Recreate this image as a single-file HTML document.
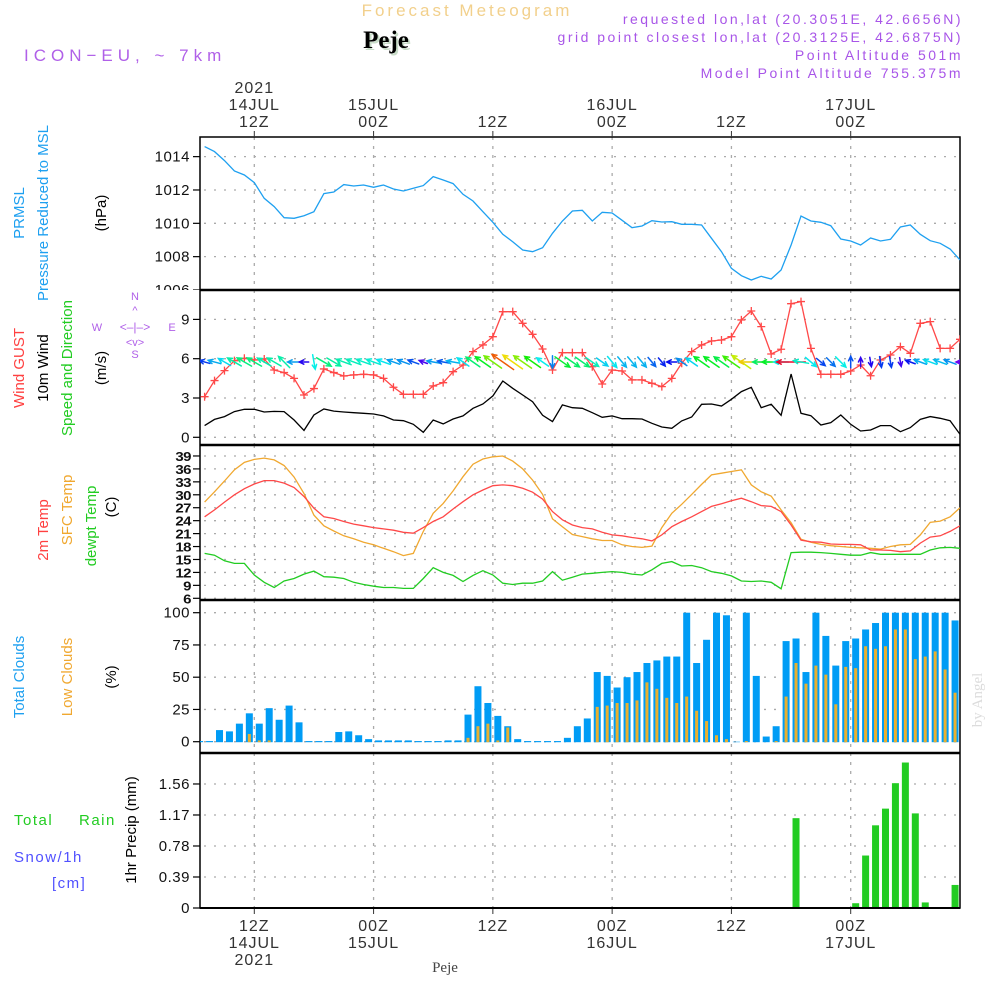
<!DOCTYPE html>
<html><head><meta charset="utf-8"><style>
html,body{margin:0;padding:0;background:#fff;}
svg{display:block;font-family:"Liberation Sans",sans-serif;}
</style></head><body>
<svg id="chart" width="1000" height="1000" viewBox="0 0 1000 1000" xmlns="http://www.w3.org/2000/svg">
<rect x="0" y="0" width="1000" height="1000" fill="#fff"/>
<text x="467" y="16" text-anchor="middle" font-size="17" fill="#f2d08c" letter-spacing="3">Forecast Meteogram</text>
<text x="388" y="50" text-anchor="middle" font-size="25" font-weight="bold" font-family="Liberation Serif,serif" fill="#c8dcc8">Peje</text>
<text x="386" y="48" text-anchor="middle" font-size="25" font-weight="bold" font-family="Liberation Serif,serif" fill="#000">Peje</text>
<text x="24" y="61" font-size="17" fill="#b060e8" letter-spacing="5">ICON−EU, ~ 7km</text>
<g font-size="14" fill="#a855e8" text-anchor="end" letter-spacing="2.5">
<text x="963" y="24">requested lon,lat (20.3051E, 42.6656N)</text>
<text x="963" y="42">grid point closest lon,lat (20.3125E, 42.6875N)</text>
<text x="963" y="60">Point Altitude 501m</text>
<text x="963" y="78">Model Point Altitude 755.375m</text>
</g>
<text transform="translate(982,700) rotate(-90)" text-anchor="middle" font-size="15" font-family="Liberation Serif,serif" fill="#dcdcdc">by Angel</text>
<text x="445" y="972" text-anchor="middle" font-size="15" font-family="Liberation Serif,serif" fill="#444">Peje</text>

<g font-size="15">
<text transform="translate(24,213) rotate(-90)" text-anchor="middle" fill="#1ea0f0">PRMSL</text>
<text transform="translate(48,213) rotate(-90)" text-anchor="middle" fill="#1ea0f0">Pressure Reduced to MSL</text>
<text transform="translate(106,213) rotate(-90)" text-anchor="middle" fill="#000">(hPa)</text>
<text transform="translate(24,368) rotate(-90)" text-anchor="middle" fill="#ff4040">Wind GUST</text>
<text transform="translate(48,368) rotate(-90)" text-anchor="middle" fill="#000">10m Wind</text>
<text transform="translate(72,368) rotate(-90)" text-anchor="middle" fill="#22cc22">Speed and Direction</text>
<text transform="translate(106,368) rotate(-90)" text-anchor="middle" fill="#000">(m/s)</text>
<text transform="translate(48,530) rotate(-90)" text-anchor="middle" fill="#ff4040">2m Temp</text>
<text transform="translate(72,510) rotate(-90)" text-anchor="middle" fill="#f0a830">SFC Temp</text>
<text transform="translate(96,526) rotate(-90)" text-anchor="middle" fill="#22cc22">dewpt Temp</text>
<text transform="translate(116,507) rotate(-90)" text-anchor="middle" fill="#000">(C)</text>
<text transform="translate(24,677) rotate(-90)" text-anchor="middle" fill="#1ea0f0">Total Clouds</text>
<text transform="translate(72,677) rotate(-90)" text-anchor="middle" fill="#f0a830">Low Clouds</text>
<text transform="translate(116,677) rotate(-90)" text-anchor="middle" fill="#000">(%)</text>
<text transform="translate(136,830) rotate(-90)" text-anchor="middle" fill="#000">1hr Precip (mm)</text>
<text x="14" y="825" fill="#22cc22" letter-spacing="1.5">Total</text>
<text x="79" y="825" fill="#22cc22" letter-spacing="1.5">Rain</text>
<text x="14" y="862" fill="#5050ff" letter-spacing="1.5">Snow/1h</text>
<text x="52" y="888" fill="#5050ff" letter-spacing="1.5">[cm]</text>
</g>
<g font-size="11" fill="#b060e8" text-anchor="middle">
<text x="97" y="331">W</text><text x="172" y="331">E</text><text x="135" y="300">N</text><text x="135" y="358">S</text>
<text x="135" y="331" font-size="12">&lt;–|–&gt;</text>
<text x="135" y="314" font-size="11">^</text><text x="135" y="346" font-size="11">&lt;v&gt;</text>
</g>
<g id="plot"></g>
</svg>
<script>
const pressure=[1014.6,1014.3,1013.76,1013.14,1012.9,1012.44,1011.5,1011.0,1010.34,1010.3,1010.46,1010.7,1011.78,1011.88,1012.32,1012.24,1012.3,1012.16,1012.3,1012.06,1011.94,1012.1,1012.26,1012.8,1012.6,1012.38,1011.74,1011.34,1010.7,1010.06,1009.34,1008.9,1008.4,1008.3,1008.54,1009.4,1010.14,1010.74,1010.78,1010.14,1010.66,1010.62,1010.18,1009.74,1009.84,1010.16,1010.08,1010.1,1009.94,1009.94,1009.9,1009.1,1008.3,1007.3,1006.86,1006.6,1006.82,1006.66,1007.2,1008.7,1010.44,1010.14,1010.06,1009.86,1009.06,1008.94,1008.7,1009.12,1008.94,1009.04,1009.78,1009.9,1009.34,1008.96,1008.8,1008.46,1007.8];
const wind10m=[0.89,1.37,1.58,1.96,2.14,2.14,1.93,1.98,1.96,1.32,0.53,1.7,2.16,2.0,1.93,1.88,1.83,1.78,1.63,1.32,1.27,0.99,0.38,1.32,1.02,1.4,1.63,2.21,2.54,3.16,4.3,3.74,3.23,2.72,1.68,1.2,2.47,2.26,2.21,1.88,1.53,1.63,1.42,1.42,1.4,1.07,0.79,0.69,1.25,1.55,2.52,2.54,2.39,2.9,3.49,3.82,2.26,2.52,1.68,4.83,1.83,1.65,0.94,1.12,1.7,0.99,0.48,0.56,0.89,0.89,0.43,0.74,1.37,1.58,1.45,1.27,0.23];
const gust=[3.1,4.33,5.09,5.85,6.03,5.9,5.98,5.14,4.94,4.5,3.23,3.72,5.22,4.94,4.68,4.76,4.81,4.76,4.5,3.82,3.28,3.28,3.28,3.92,4.17,5.01,5.52,6.54,7.05,7.68,9.59,9.59,8.7,7.86,6.74,5.14,6.46,6.46,6.46,5.39,4.07,5.14,5.06,4.38,4.38,4.12,3.87,4.5,5.65,6.54,7.05,7.35,7.43,7.68,8.96,9.64,8.45,6.36,6.72,10.2,10.36,6.79,4.81,4.81,4.81,5.06,5.52,4.7,5.9,6.28,6.92,6.41,8.7,8.83,6.79,6.79,7.48];
const windAngle=[165,165,150,150,150,150,150,150,135,180,180,280,330,330,160,160,160,160,160,160,160,160,160,170,170,170,145,145,145,145,145,145,145,145,145,270,325,325,325,325,325,310,310,310,310,310,310,180,145,145,145,145,145,145,145,180,180,180,180,180,170,320,320,315,315,90,90,280,280,280,280,160,160,160,160,160,180];
const temp2m=[24.9,26.5,28.3,30.0,31.4,32.5,33.3,33.3,32.7,31.7,29.6,26.9,24.9,24.5,23.8,23.2,22.8,22.4,22.1,21.8,21.3,21.1,22.4,23.8,24.9,26.7,28.4,30.0,31.1,32.1,32.3,32.1,31.5,30.6,29.0,26.1,24.2,23.0,22.4,22.1,21.3,20.7,20.5,20.1,19.8,19.3,20.7,22.6,23.8,24.9,26.1,27.3,27.9,28.6,29.2,28.4,27.5,27.3,26.1,23.0,19.5,19.1,19.0,18.6,18.5,18.5,18.4,17.2,17.2,17.1,16.8,17.0,18.8,20.2,20.5,21.5,22.8];
const tempSfc=[28.3,30.7,33.2,35.8,37.5,38.2,38.5,38.1,36.8,34.1,30.3,25.3,22.8,21.6,20.5,19.8,19.0,18.4,17.6,16.8,15.9,16.4,21.5,25.7,28.0,30.9,34.2,37.1,38.3,38.8,39.0,37.8,36.0,33.4,30.1,24.4,22.6,20.8,20.3,19.8,19.4,19.4,18.4,18.0,17.8,18.1,22.4,25.7,27.8,30.1,32.4,34.6,35.0,35.4,35.8,32.3,30.7,29.7,26.5,23.5,19.7,19.0,18.5,18.2,18.0,17.8,17.7,17.6,17.4,18.0,18.4,18.5,20.7,23.6,23.9,24.9,27.0];
const dewpoint=[16.4,16.0,14.7,14.1,14.1,11.4,9.7,8.5,10.0,10.6,11.6,12.3,11.0,10.9,10.6,9.7,9.2,8.8,8.5,8.5,8.3,8.3,10.6,13.1,12.0,11.3,9.9,11.3,12.4,11.4,9.5,9.2,9.5,9.5,10.0,12.2,10.2,10.9,11.6,11.8,12.0,12.2,12.0,11.6,11.4,12.6,14.1,14.5,13.5,13.6,13.1,12.2,11.8,11.2,10.0,9.9,10.0,9.7,8.2,16.6,16.7,16.7,16.6,16.4,16.2,16.0,16.0,16.6,16.2,16.2,16.2,16.2,16.2,17.2,17.7,17.8,17.6];
const totalClouds=[0.5,0.5,9,8,14,22,14,26,17,28,15,0.5,0.5,0.5,7.5,8,5,2,1,1,1,1,0.5,0.5,0.5,1,1,21,43,30,20,12,2,0.5,0.5,0.5,0.5,3,12,18,54,51,42,50,54,61,63,66,66,100,61,79,100,98,0,100,51,4,12,78,80,54,100,82,59,78,80,87,92,100,100,100,100,100,100,100,94];
const lowClouds=[0,0,0,0,0,6,1,1,0,0,0,0,0,0,0,0,0,0,0,0,0,0,0,0,0,0,0,3,12,14,1,11,0,0,0,0,0,0,0,0,27,28,30,30,32,46,41,34,30,35,24,16,5,2,0,0.5,0,0,0.5,35,61,45,59,52,29,58,57,74,72,74,87,87,64,66,70,56,38];
const precip=[0,0,0,0,0,0,0,0,0,0,0,0,0,0,0,0,0,0,0,0,0,0,0,0,0,0,0,0,0,0,0,0,0,0,0,0,0,0,0,0,0,0,0,0,0,0,0,0,0,0,0,0,0,0,0,0,0,0,0,0,1.13,0.01,0,0.005,0,0.01,0.06,0.66,1.04,1.25,1.57,1.83,1.19,0.07,0,0,0.29];
const pressureTicks=[1014,1012,1010,1008,1006];
const windTicks=[9,6,3,0];
const tempTicks=[39,36,33,30,27,24,21,18,15,12,9,6];
const cloudTicks=[100,75,50,25,0];
const precipTicks=[1.56,1.17,0.78,0.39,0];
const timeHours=[12,24,36,48,60,72];
const topLabels=[["2021","14JUL","12Z"],["","15JUL","00Z"],["","","12Z"],["","16JUL","00Z"],["","","12Z"],["","17JUL","00Z"]];
const bottomLabels=[["12Z","14JUL","2021"],["00Z","15JUL",""],["12Z","",""],["00Z","16JUL",""],["12Z","",""],["00Z","17JUL",""]];

const NS="http://www.w3.org/2000/svg";
const X0=200,X1=960;
const xH=h=>254.3+(h-12)*9.94;
const lineH=i=>7+i, barH=i=>6.5+i;
const yP=v=>290-(v-1006)*16.67;
const yW=v=>437.3-v*13.1;
const yT=v=>598.3-(v-6)*4.313;
const yC=v=>741.7-v*1.29;
const yR=v=>908-v*79.5;
const plot=document.getElementById('plot');
function mk(tag,attrs,parent){const e=document.createElementNS(NS,tag);for(const k in attrs)e.setAttribute(k,attrs[k]);(parent||plot).appendChild(e);return e;}

const defs=mk('defs',{});
const cp=mk('clipPath',{id:'clipPlot'},defs);mk('rect',{x:X0,y:137,width:X1-X0,height:771},cp);
const cpP=mk('clipPath',{id:'clipP'},defs);mk('rect',{x:0,y:137,width:200,height:153},cpP);

const panels=[
 {name:'pressure',top:137,bot:290,ticks:pressureTicks,y:yP,fmt:v=>String(v)},
 {name:'wind',top:290,bot:445,ticks:windTicks,y:yW,fmt:v=>String(v)},
 {name:'temperature',top:445,bot:600,ticks:tempTicks,y:yT,fmt:v=>String(v),bold:true},
 {name:'clouds',top:600,bot:753,ticks:cloudTicks,y:yC,fmt:v=>String(v)},
 {name:'precip',top:753,bot:908,ticks:precipTicks,y:yR,fmt:v=>v===0?'0':v.toFixed(2)}
];
panels.forEach(p=>{
 const g=mk('g',{});
 
 
 const grid=mk('g',{stroke:'#aaa','stroke-width':1.3,'stroke-dasharray':'2,8'},g);
 
 
 p.ticks.forEach(t=>{const y=p.y(t);mk('line',{x1:X0+4,x2:X1,y1:y,y2:y},grid);});
 timeHours.forEach(h=>{const x=xH(h);mk('line',{x1:x,x2:x,y1:p.top,y2:p.bot,'stroke-dasharray':'3,6'},grid);});
 const ax=mk('g',{},g);
 
 
 if(p.name==='pressure')ax.setAttribute('clip-path','url(#clipP)');
 p.ticks.forEach(t=>{const y=p.y(t);
  mk('line',{x1:193,x2:200,y1:y,y2:y,stroke:'#000','stroke-width':1.2},ax);
  const tx=mk('text',{x:p.bold?191:190,y:y+5,'text-anchor':'end','font-size':15,fill:'#111','font-weight':p.bold?'bold':'normal','letter-spacing':p.bold?'-0.5':'0.5'},ax);
  if(p.bold){tx.setAttribute('transform','translate(191,'+(y+5)+') scale(1,0.85) translate(-191,'+(-(y+5))+')');}
  tx.textContent=p.fmt(t);});
});
const frame=mk('g',{fill:'none',stroke:'#000'});


mk('rect',{x:X0,y:137,width:X1-X0,height:771,'stroke-width':1.5},frame);
[290,445,600,753].forEach(y=>mk('line',{x1:X0,x2:X1,y1:y,y2:y,'stroke-width':2.5},frame));
const ta=mk('g',{'font-size':16,fill:'#333','text-anchor':'middle','letter-spacing':'1'});


timeHours.forEach((h,i)=>{const x=xH(h);
 mk('line',{x1:x,x2:x,y1:131,y2:137,stroke:'#333'},ta);
 mk('line',{x1:x,x2:x,y1:908,y2:914,stroke:'#333'},ta);
 topLabels[i].forEach((s,k)=>{if(!s)return;const t=mk('text',{x:x,y:93+k*17},ta);t.textContent=s;});
 bottomLabels[i].forEach((s,k)=>{if(!s)return;const t=mk('text',{x:x,y:931+k*17},ta);t.textContent=s;});
});
const data=mk('g',{'clip-path':'url(#clipPlot)'});


function poly(arr,yf,color,name,w){
 const pts=arr.map((v,i)=>xH(lineH(i)).toFixed(1)+','+yf(v).toFixed(1)).join(' ');
 const e=mk('polyline',{points:pts,fill:'none',stroke:color,'stroke-width':w||1.3},data);
 
 
 return e;
}
poly(pressure,yP,'#1ea0f0','pressure-line');
poly(wind10m,yW,'#000','wind-speed-line');
poly(gust,yW,'#ff4848','wind-gust-line');
const gm=mk('g',{stroke:'#ff4848','stroke-width':1.3},data);


gust.forEach((v,i)=>{const x=xH(lineH(i)),y=yW(v);
 mk('path',{d:`M${x-4},${y}H${x+4}M${x},${y-4}V${y+4}`},gm);});
const wa=mk('g',{'stroke-width':1.5,fill:'none','stroke-linecap':'round'},data);


windAngle.forEach((a,i)=>{
 const s=wind10m[i];const hue=((280-s*60)%360+360)%360;
 const col=`hsl(${hue},95%,48%)`;
 const x=xH(lineH(i)),y=362;const L=7+s*4.5;const r=a*Math.PI/180;
 const dx=Math.cos(r)*L,dy=-Math.sin(r)*L;
 const x0=x-dx/2,y0=y-dy/2,x1=x+dx/2,y1=y+dy/2;
 const hl=5,b1=r+Math.PI-0.45,b2=r+Math.PI+0.45;
 const e=mk('path',{d:`M${x0},${y0}L${x1},${y1}M${x1+Math.cos(b1)*hl},${y1-Math.sin(b1)*hl}L${x1},${y1}L${x1+Math.cos(b2)*hl},${y1-Math.sin(b2)*hl}`,stroke:col},wa);
 
 
});
poly(tempSfc,yT,'#f0a830','sfc-temp-line');
poly(temp2m,yT,'#ff4848','temp-2m-line');
poly(dewpoint,yT,'#22cc22','dewpoint-line');
const cb=mk('g',{},data);


totalClouds.forEach((v,i)=>{const x=xH(barH(i));const y=yC(v);
 const r=mk('rect',{x:x-3.5,y:y,width:7,height:yC(0)-y+0.5,fill:'#009cf5'},cb);
 
 });
lowClouds.forEach((v,i)=>{if(v<=0)return;const x=xH(barH(i));const y=yC(v);
 const r=mk('rect',{x:x-1.5,y:y,width:3,height:yC(0)-y+0.5,fill:'#e8b030'},cb);
 
 });
const pb=mk('g',{},data);


precip.forEach((v,i)=>{if(v<=0)return;const x=xH(barH(i));const y=yR(v);
 const r=mk('rect',{x:x-3.5,y:y,width:7,height:Math.max(yR(0)-y,1.5),fill:'#22cc22'},pb);
 
 });
mk('line',{x1:X0,x2:X1,y1:908,y2:908,stroke:'#000','stroke-width':2});
</script>
</body></html>
